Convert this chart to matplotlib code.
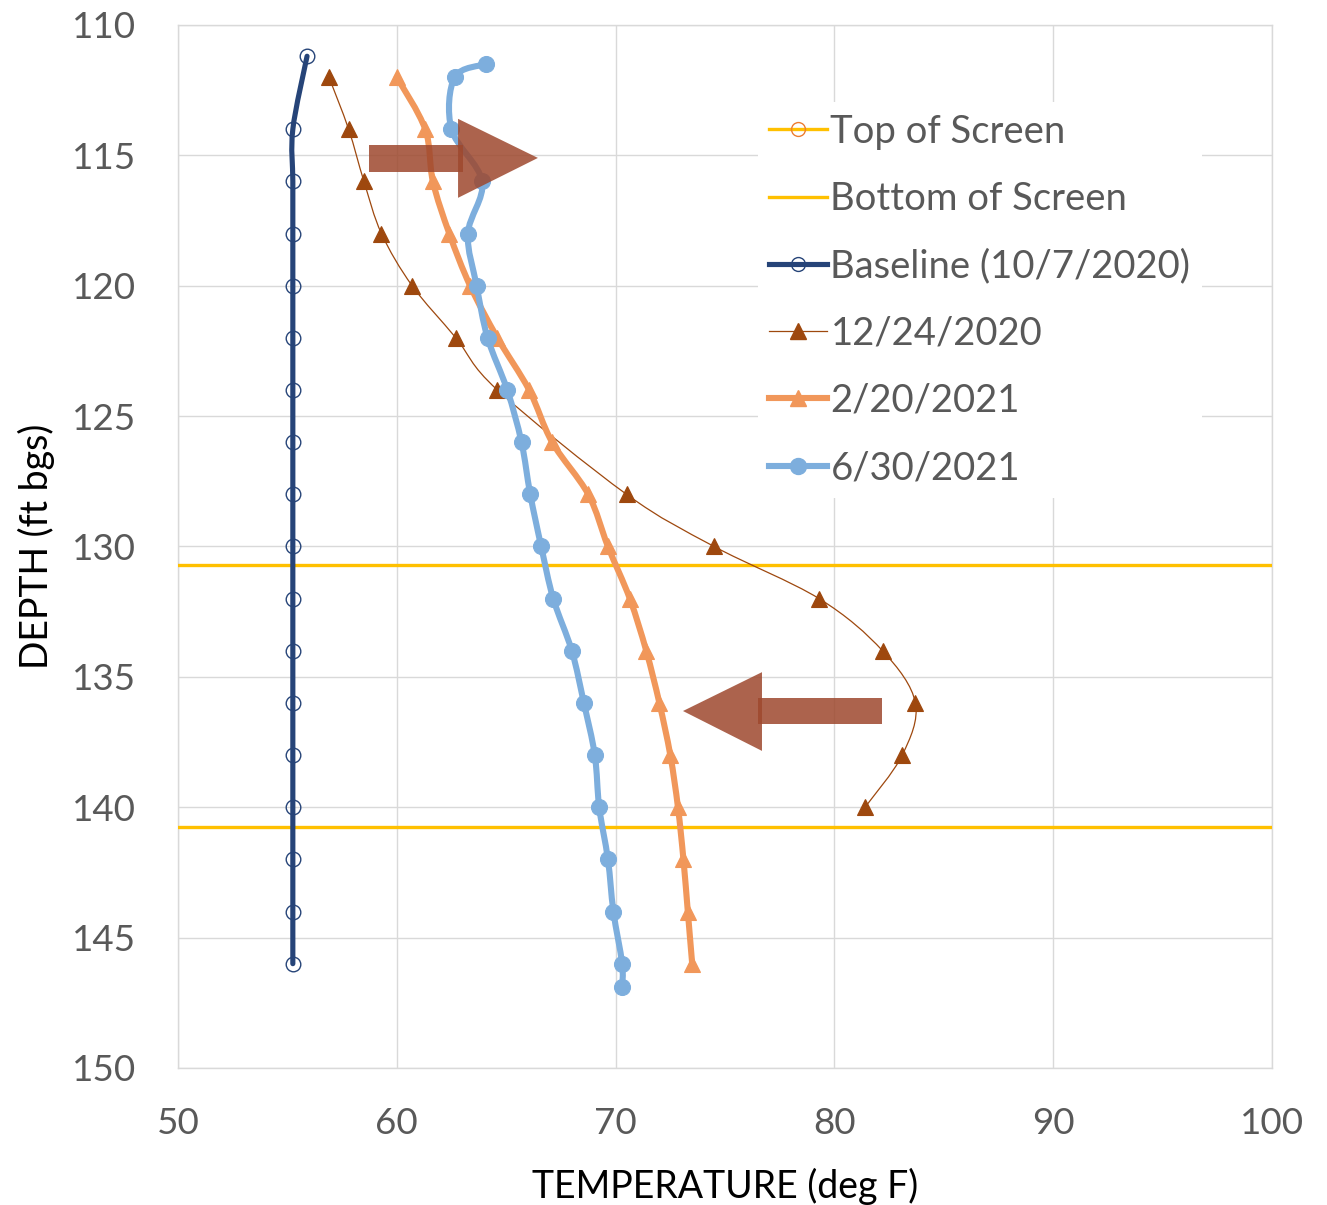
import matplotlib
matplotlib.use("Agg")
import matplotlib.pyplot as plt
import matplotlib.patches as patches
from matplotlib.path import Path
from matplotlib.lines import Line2D

plt.rcParams["font.family"] = ["Lato", "DejaVu Sans"]

# depths (ft bgs) and temperatures (deg F)
base_depth = [111.2, 114, 116, 118, 120, 122, 124, 126, 128, 130, 132, 134, 136, 138, 140, 142, 144, 146]
base_temp = [55.9, 55.25, 55.25, 55.25, 55.25, 55.25, 55.25, 55.25, 55.25, 55.25,
             55.25, 55.25, 55.25, 55.25, 55.25, 55.25, 55.25, 55.25]

dec_depth = [112, 114, 116, 118, 120, 122, 124, 128, 130, 132, 134, 136, 138, 140]
dec_temp = [56.9, 57.8, 58.5, 59.3, 60.7, 62.7, 64.6, 70.5, 74.5, 79.3, 82.2, 83.7, 83.1, 81.4]

feb_depth = [112, 114, 116, 118, 120, 122, 124, 126, 128, 130, 132, 134, 136, 138, 140, 142, 144, 146]
feb_temp = [60.0, 61.3, 61.65, 62.4, 63.35, 64.6, 66.05, 67.1, 68.75, 69.65,
            70.65, 71.4, 72.0, 72.5, 72.85, 73.1, 73.3, 73.5]

jun_depth = [111.5, 112, 114, 116, 118, 120, 122, 124, 126, 128, 130, 132, 134, 136, 138, 140, 142, 144, 146, 146.9]
jun_temp = [64.1, 62.65, 62.5, 63.9, 63.25, 63.65, 64.15, 65.05, 65.7, 66.1, 66.6,
            67.15, 68.0, 68.55, 69.05, 69.25, 69.65, 69.9, 70.3, 70.3]

top_screen = 130.7
bottom_screen = 140.75

x_ticks = [50, 60, 70, 80, 90, 100]
y_ticks = [110, 115, 120, 125, 130, 135, 140, 145, 150]

GOLD = "#FFC000"
NAVY = "#264478"
BROWN = "#9E480E"
ORANGE = "#F1975A"
LBLUE = "#7DAEDD"
GRID = "#D9D9D9"
TXT = "#595959"
ARROW = "#9E482E"


def smooth_path(xs, ys):
    """Excel-like smoothed line: Catmull-Rom segments as cubic Beziers."""
    pts = list(zip(xs, ys))
    n = len(pts)
    verts = [pts[0]]
    codes = [Path.MOVETO]
    for i in range(n - 1):
        p0 = pts[i - 1] if i > 0 else pts[i]
        p1 = pts[i]
        p2 = pts[i + 1]
        p3 = pts[i + 2] if i + 2 < n else pts[i + 1]
        c1 = (p1[0] + (p2[0] - p0[0]) / 6, p1[1] + (p2[1] - p0[1]) / 6)
        c2 = (p2[0] - (p3[0] - p1[0]) / 6, p2[1] - (p3[1] - p1[1]) / 6)
        verts += [c1, c2, p2]
        codes += [Path.CURVE4] * 3
    return Path(verts, codes)


def draw_series(ax, xs, ys, color, lw, marker, ms, mfc, mew, z):
    ax.add_patch(patches.PathPatch(smooth_path(xs, ys), facecolor="none",
                                   edgecolor=color, lw=lw, capstyle="round",
                                   joinstyle="round", zorder=z))
    ax.plot(xs, ys, linestyle="none", marker=marker, ms=ms, mfc=mfc,
            mec=color, mew=mew, zorder=z + 0.1)


def draw_arrow(ax, shaft_x, shaft_y, head_x, head_y, tip):
    # shaft and head are separate translucent shapes, as in the source
    shaft = patches.Rectangle((shaft_x[0], shaft_y[0]), shaft_x[1] - shaft_x[0],
                              shaft_y[1] - shaft_y[0], facecolor=ARROW,
                              edgecolor="none", alpha=0.85, zorder=10)
    head = patches.Polygon([(head_x, head_y[0]), (head_x, head_y[1]), tip],
                           closed=True, facecolor=ARROW, edgecolor="none",
                           alpha=0.85, zorder=10)
    ax.add_patch(shaft)
    ax.add_patch(head)


fig = plt.figure(figsize=(13.27, 12.05), dpi=100)
ax = fig.add_axes([0.1341, 0.1137, 0.8245, 0.8656])

ax.axhline(top_screen, color=GOLD, lw=2.4, zorder=3)
ax.axhline(bottom_screen, color=GOLD, lw=2.4, zorder=3)

draw_series(ax, base_temp, base_depth, NAVY, 3.7, "o", 10.5, "none", 1.0, 4)
draw_series(ax, dec_temp, dec_depth, BROWN, 0.9, "^", 11, BROWN, 0.8, 5)
draw_series(ax, feb_temp, feb_depth, ORANGE, 4.4, "^", 11.5, ORANGE, 0.8, 6)
draw_series(ax, jun_temp, jun_depth, LBLUE, 4.4, "o", 11.5, LBLUE, 0.8, 7)

# annotation arrows
draw_arrow(ax, (58.73, 63.03), (114.60, 115.64), 62.80, (113.60, 116.63), (66.45, 115.10))
draw_arrow(ax, (76.51, 82.18), (135.81, 136.81), 76.69, (134.82, 137.84), (73.08, 136.31))

ax.set_xlim(50, 100)
ax.set_ylim(150, 110)
ax.set_xticks(x_ticks)
ax.set_yticks(y_ticks)
ax.grid(True, color=GRID, lw=1.0, zorder=0)
ax.set_axisbelow(True)
for sp in ax.spines.values():
    sp.set_color(GRID)
    sp.set_linewidth(1.0)
ax.tick_params(length=0, labelsize=26.5, labelcolor=TXT)
ax.tick_params(axis="y", pad=30)
ax.tick_params(axis="x", pad=28)

ax.set_xlabel("TEMPERATURE (deg F)", fontsize=27, color="black", labelpad=20)
ax.set_ylabel("DEPTH (ft bgs)", fontsize=27, color="black", labelpad=12)

handles = [
    Line2D([], [], color=GOLD, lw=2.4, marker="o", ms=10, mfc="none", mec="#ED7D31", mew=1.0),
    Line2D([], [], color=GOLD, lw=2.4),
    Line2D([], [], color=NAVY, lw=3.7, marker="o", ms=10, mfc="none", mec=NAVY, mew=1.0),
    Line2D([], [], color=BROWN, lw=0.9, marker="^", ms=11, mfc=BROWN, mec=BROWN),
    Line2D([], [], color=ORANGE, lw=4.4, marker="^", ms=11.5, mfc=ORANGE, mec=ORANGE),
    Line2D([], [], color=LBLUE, lw=4.4, marker="o", ms=11.5, mfc=LBLUE, mec=LBLUE),
]
labels = ["Top of Screen", "Bottom of Screen", "Baseline (10/7/2020)",
          "12/24/2020", "2/20/2021", "6/30/2021"]
leg = ax.legend(handles, labels, loc="upper left", bbox_to_anchor=(0.53, 0.926),
                fontsize=27.5, frameon=True, fancybox=False, framealpha=1.0,
                edgecolor="none", facecolor="white", handlelength=1.5,
                handletextpad=0.1, labelspacing=0.82, borderpad=0.3,
                borderaxespad=0.0)
leg.set_zorder(8)
for t in leg.get_texts():
    t.set_color(TXT)

fig.savefig("out.png", dpi=100)
